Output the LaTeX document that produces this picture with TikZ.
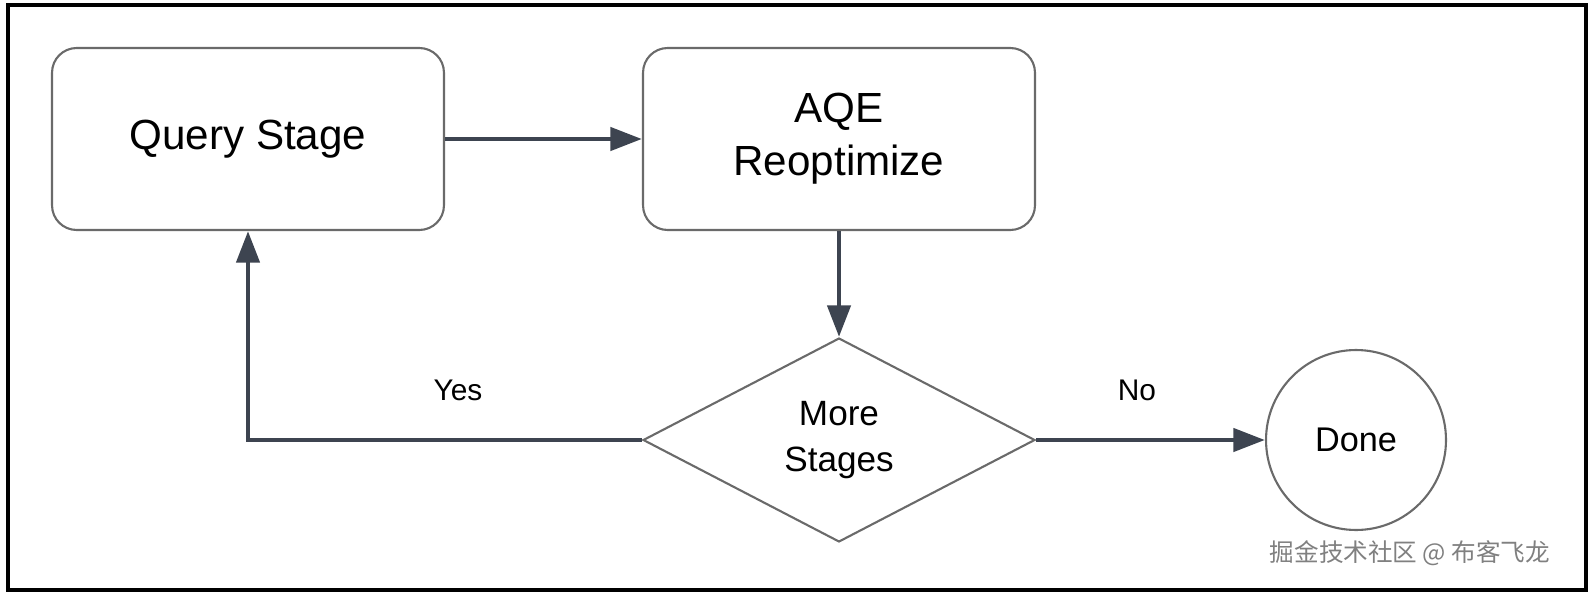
\documentclass[tikz,border=0pt]{standalone}
\usepackage{fontspec}
\setmainfont{Liberation Sans}
\newfontfamily\cjk{Noto Sans CJK SC}
\usetikzlibrary{arrows.meta,shapes.geometric}
\definecolor{arr}{HTML}{3D4450}
\definecolor{bord}{HTML}{6A6A6A}
\begin{document}
\begin{tikzpicture}[x=0.02cm,y=-0.02cm,
  box/.style={draw=bord,line width=1.2pt,rounded corners=14pt,minimum width=7.84cm,minimum height=3.64cm,align=center,font=\fontsize{24}{30}\selectfont},
  conn/.style={draw=arr,line width=2.8pt,-{Triangle[length=18pt,width=13pt]}},
  lbl/.style={font=\fontsize{17}{20}\selectfont}]
\useasboundingbox (0,0) rectangle (1594,598);
\draw[line width=1.8pt] (8,5) rectangle (1586,590);
\node[box] (q) at (248,139) {Query Stage};
\node[box] (a) at (839,139) {AQE\\Reoptimize};
\node[diamond,draw=bord,line width=1.2pt,minimum width=7.84cm,minimum height=4.08cm,inner sep=0pt,align=center,font=\fontsize{20}{26}\selectfont] (m) at (839,440) {More\\Stages};
\node[circle,draw=bord,line width=1.2pt,minimum size=3.6cm,font=\fontsize{19.5}{22}\selectfont] (d) at (1356,440) {Done};
\draw[conn] (q.east) -- (a.west);
\draw[conn] (a.south) -- (m.north);
\draw[conn] (m.west) -| (q.south);
\draw[conn] (m.east) -- (d.west);
\node[lbl] (y) at (458,390) {Yes};
\node[lbl] (n) at (1137,390) {No};
\node[font=\fontsize{14}{16}\selectfont\cjk,text=gray] (w) at (1410,553) {掘金技术社区 @ 布客飞龙};
\end{tikzpicture}
\end{document}
